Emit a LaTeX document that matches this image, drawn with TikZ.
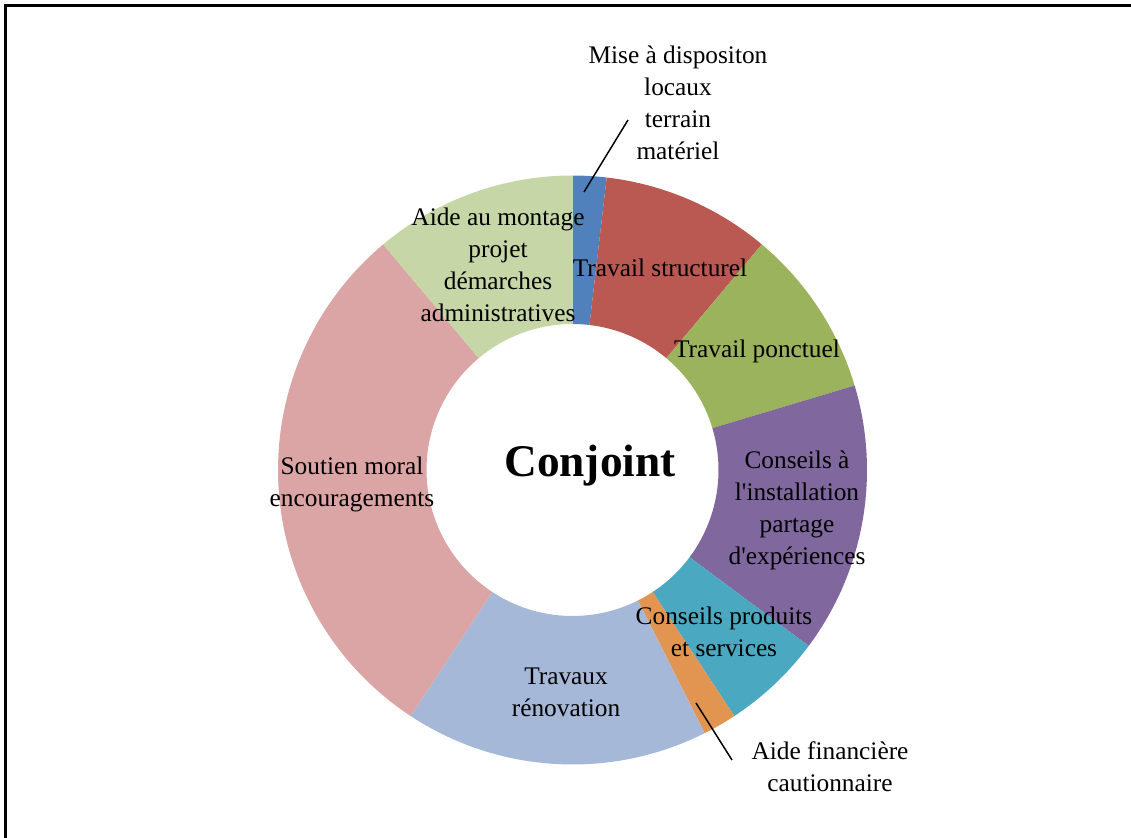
\documentclass[tikz,border=0pt]{standalone}
\usepackage{fontspec}
\setmainfont{Liberation Serif}[Ligatures=TeXOff]
\definecolor{cBlue}{RGB}{80,129,189}
\definecolor{cRed}{RGB}{185,89,82}
\definecolor{cGreen}{RGB}{155,179,92}
\definecolor{cPurple}{RGB}{128,103,158}
\definecolor{cTeal}{RGB}{75,168,193}
\definecolor{cOrange}{RGB}{226,149,80}
\definecolor{cLightBlue}{RGB}{166,184,216}
\definecolor{cPink}{RGB}{218,165,164}
\definecolor{cLightGreen}{RGB}{198,214,166}
\newcommand\donutslice[3]{\fill[#3] (#1:294.5) arc[start angle=#1, end angle=#2, radius=294.5] -- (#2:146) arc[start angle=#2, end angle=#1, radius=146] -- cycle;}
\begin{document}
\begin{tikzpicture}[x=0.75pt,y=-0.75pt,
  lbl/.style={align=center, font=\fontsize{19}{24}\selectfont, inner sep=0pt},
  leader/.style={draw=black, line width=1.1pt},
  frameline/.style={draw=black, line width=2.2pt}]
\useasboundingbox (0,0) rectangle (1131,838);
\draw[frameline] (5.5,838) -- (5.5,5.5) -- (1131,5.5);
\begin{scope}[shift={(572.5,470)}, x=0.75pt, y=0.75pt]
  \donutslice{90}{83.333}{cBlue}
  \donutslice{83.333}{50}{cRed}
  \donutslice{50}{16.667}{cGreen}
  \donutslice{16.667}{-36.667}{cPurple}
  \donutslice{-36.667}{-56.667}{cTeal}
  \donutslice{-56.667}{-63.333}{cOrange}
  \donutslice{-63.333}{-123.333}{cLightBlue}
  \donutslice{-123.333}{-230}{cPink}
  \donutslice{-230}{-270}{cLightGreen}
\end{scope}
\node[lbl] (mise) at (678,103) {Mise à dispositon\\locaux\\terrain\\matériel};
\node[lbl] (montage) at (498,265) {Aide au montage\\projet\\démarches\\administratives};
\node[lbl] (structurel) at (660,268) {Travail structurel};
\node[lbl] (ponctuel) at (757,351) {Travail ponctuel};
\node[lbl] (installation) at (797,510) {Conseils à\\l'installation\\partage\\d'expériences};
\node[lbl] (produits) at (724,632) {Conseils produits\\et services};
\node[lbl] (financiere) at (830,767) {Aide financière\\cautionnaire};
\node[lbl] (renovation) at (566,692) {Travaux\\rénovation};
\node[lbl] (soutien) at (352,484) {Soutien moral\\encouragements};
\node[inner sep=0pt, font=\fontsize{34}{40}\selectfont\bfseries] (conjoint) at (590,466) {Conjoint};
\coordinate (l1a) at (628,120);
\coordinate (l1b) at (584,192);
\coordinate (l2a) at (696,703);
\coordinate (l2b) at (732,760);
\draw[leader] (l1a) -- (l1b);
\draw[leader] (l2a) -- (l2b);
\end{tikzpicture}
\end{document}
